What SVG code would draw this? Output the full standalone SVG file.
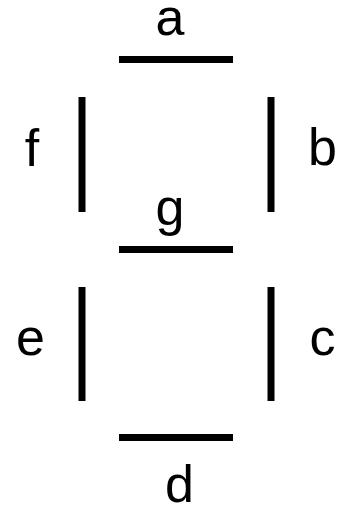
<svg xmlns="http://www.w3.org/2000/svg" width="346" height="507" viewBox="0 0 346 507">
<style>
.seg{stroke:#000;stroke-width:7;fill:none}
.lbl{font-family:"Liberation Sans",Arial,sans-serif;font-size:52px;fill:#000;text-anchor:middle}
</style>
<rect width="346" height="507" fill="#fff"/>
<g id="seg-a"><line class="seg" x1="119" y1="59.5" x2="233" y2="59.5"/><text class="lbl" x="170" y="35">a</text></g>
<g id="seg-b"><line class="seg" x1="271" y1="97" x2="271" y2="212"/><text class="lbl" x="322.5" y="165">b</text></g>
<g id="seg-c"><line class="seg" x1="271" y1="287" x2="271" y2="401"/><text class="lbl" x="322.5" y="355">c</text></g>
<g id="seg-d"><line class="seg" x1="119" y1="437.5" x2="233" y2="437.5"/><text class="lbl" x="179.5" y="502">d</text></g>
<g id="seg-e"><line class="seg" x1="82" y1="287" x2="82" y2="401"/><text class="lbl" x="30.5" y="355">e</text></g>
<g id="seg-f"><line class="seg" x1="82" y1="97" x2="82" y2="212"/><text class="lbl" x="32" y="166">f</text></g>
<g id="seg-g"><line class="seg" x1="119" y1="249.5" x2="233" y2="249.5"/><text class="lbl" x="170" y="225">g</text></g>
<g id="connectors"/>
</svg>
